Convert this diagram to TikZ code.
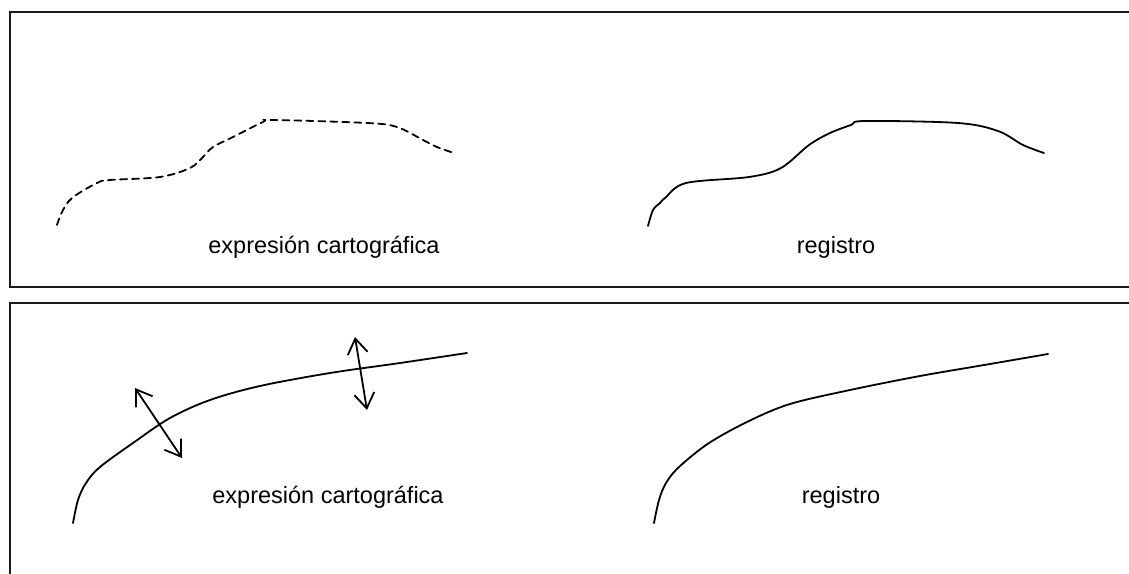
\documentclass[tikz,border=0pt]{standalone}
\usepackage{fontspec}
\setmainfont{Liberation Sans}
\usetikzlibrary{arrows.meta}
\definecolor{frameInk}{HTML}{1A1A1A}

\begin{document}
\begin{tikzpicture}[x=1pt, y=-1pt,
          panel/.style={draw=frameInk, line width=2pt},
          trace/.style={line width=1.8pt, line cap=round, smooth, tension=0.55},
          dashtrace/.style={trace, dash pattern=on 7pt off 5pt},
          swing/.style={line width=1.8pt, {Straight Barb[length=15pt, width=20pt]}-{Straight Barb[length=15pt, width=20pt]}},
          caption/.style={anchor=base, font=\fontsize{23.5}{28}\selectfont}]
        \useasboundingbox (0,0) rectangle (1129,573);
        % two framed panels, both run past the right edge
        \draw[panel] (1140,12) -| (10,287) -- (1140,287);
        \draw[panel] (1140,303) -| (10,585);
        % upper panel
        \draw[dashtrace] plot coordinates {(57,225) (62,212) (72,198) (97,183) (110,180) (160,177) (190,168) (203,157) (213,147) (233,137) (263,122) (273,120) (367,123) (397,127) (423,140) (437,147) (454,153)};
        \draw[trace] plot coordinates {(648,226) (653,210) (660,203) (665,198) (686,183) (749,177) (781,168) (809,145) (830,133) (851,125) (865,121) (958,123) (998,131) (1023,145) (1044,153)};
        \node[caption] (expr1) at (324,253) {expresión cartográfica};
        \node[caption] (reg1) at (836,253) {registro};
        % lower panel
        \draw[trace] plot coordinates {(73,523) (78,500) (86,483) (100,467) (133,443) (170,418) (210,400) (260,386) (330,373) (400,363) (467,353)};
        \draw[trace] plot coordinates {(654,523) (659,500) (666,483) (679,467) (709,443) (749,421) (790,404) (850,390) (920,376) (990,364) (1048,354)};
        \node[caption] (expr2) at (328,503) {expresión cartográfica};
        \node[caption] (reg2) at (841,503) {registro};
        \coordinate (s1a) at (135,388);
        \coordinate (s1b) at (182,458);
        \coordinate (s2a) at (355,337);
        \coordinate (s2b) at (367,410);
        \draw[swing] (s1a) -- (s1b);
        \draw[swing] (s2a) -- (s2b);
\end{tikzpicture}
\end{document}
